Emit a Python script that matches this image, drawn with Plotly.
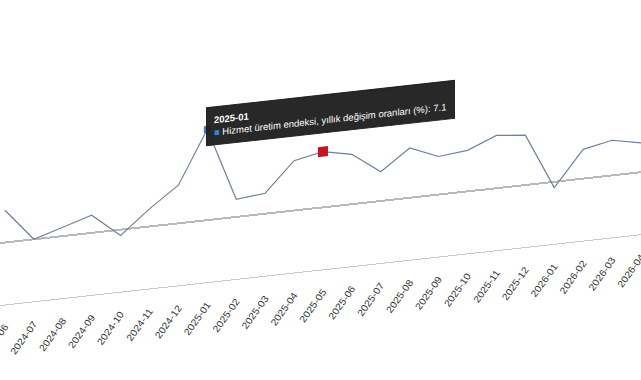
import plotly.graph_objects as go

months = ["2024-06", "2024-07", "2024-08", "2024-09", "2024-10", "2024-11", "2024-12",
          "2025-01", "2025-02", "2025-03", "2025-04", "2025-05", "2025-06", "2025-07",
          "2025-08", "2025-09", "2025-10", "2025-11", "2025-12", "2026-01", "2026-02",
          "2026-03", "2026-04"]
values = [5.1, 4.0, 4.3, 4.6, 3.8, 4.6, 5.3, 7.1, 4.6, 4.7, 5.7, 5.9, 5.7, 5.0,
          5.7, 5.3, 5.4, 5.8, 5.7, 3.8, 5.0, 5.2, 5.0]
series_name = "Hizmet üretim endeksi, yıllık değişim oranları (%)"
hover_month = "2025-01"
red_month = "2025-05"

hi = months.index(hover_month)
ri = months.index(red_month)

fig = go.Figure()
fig.add_trace(go.Scatter(x=months, y=values, mode="lines",
                         line=dict(color="#6f8299", width=1.2), showlegend=False))
fig.add_trace(go.Scatter(x=[months[ri]], y=[values[ri]], mode="markers",
                         marker=dict(symbol="square", size=10, color="#c3141f"),
                         showlegend=False))
fig.add_trace(go.Scatter(x=[months[hi]], y=[values[hi]], mode="markers",
                         marker=dict(symbol="square", size=7, color="#3b80c4"),
                         showlegend=False))

H, W = 380, 641
top, base = 40, 305
px_per_unit = 29.3
y_bottom = 4 - (base - 243) / px_per_unit
y_top = y_bottom + (base - top) / px_per_unit

fig.add_annotation(
    xref="paper", yref="paper", x=206 / W, y=(base - 130) / (base - top),
    xanchor="left", yanchor="top", align="left", showarrow=False,
    text=f"<b>{hover_month}</b><br><span style='color:#3b80c4'>■</span> {series_name}: {values[hi]}",
    font=dict(color="white", size=9.5, family="Liberation Sans, Arial"),
    bgcolor="rgba(28,28,28,0.95)", bordercolor="rgba(28,28,28,0.95)", borderpad=7,
)

fig.update_layout(
    width=W, height=H,
    margin=dict(l=0, r=0, t=top, b=H - base),
    plot_bgcolor="white", paper_bgcolor="white",
    font=dict(family="Liberation Sans, Arial", color="#333333"),
    xaxis=dict(type="category", range=[-0.17, 22.0], tickangle=-52,
               tickfont=dict(size=10, color="#333333"), showgrid=False,
               showline=True, linecolor="#c8c8c8", linewidth=1,
               ticks="", ticklabelstandoff=12, automargin=False),
    yaxis=dict(range=[y_bottom, y_top], tickvals=[4], showticklabels=False,
               showgrid=True, gridcolor="#b9b9b9", gridwidth=1.6, zeroline=False,
               showline=False, automargin=False),
)

post = """
document.body.style.margin='0';
var d=document.querySelector('.plotly-graph-div');
d.style.transformOrigin='0 0';
d.style.transform='skewY(-6.3deg)';
"""
fig.write_html("out.html", post_script=post)
